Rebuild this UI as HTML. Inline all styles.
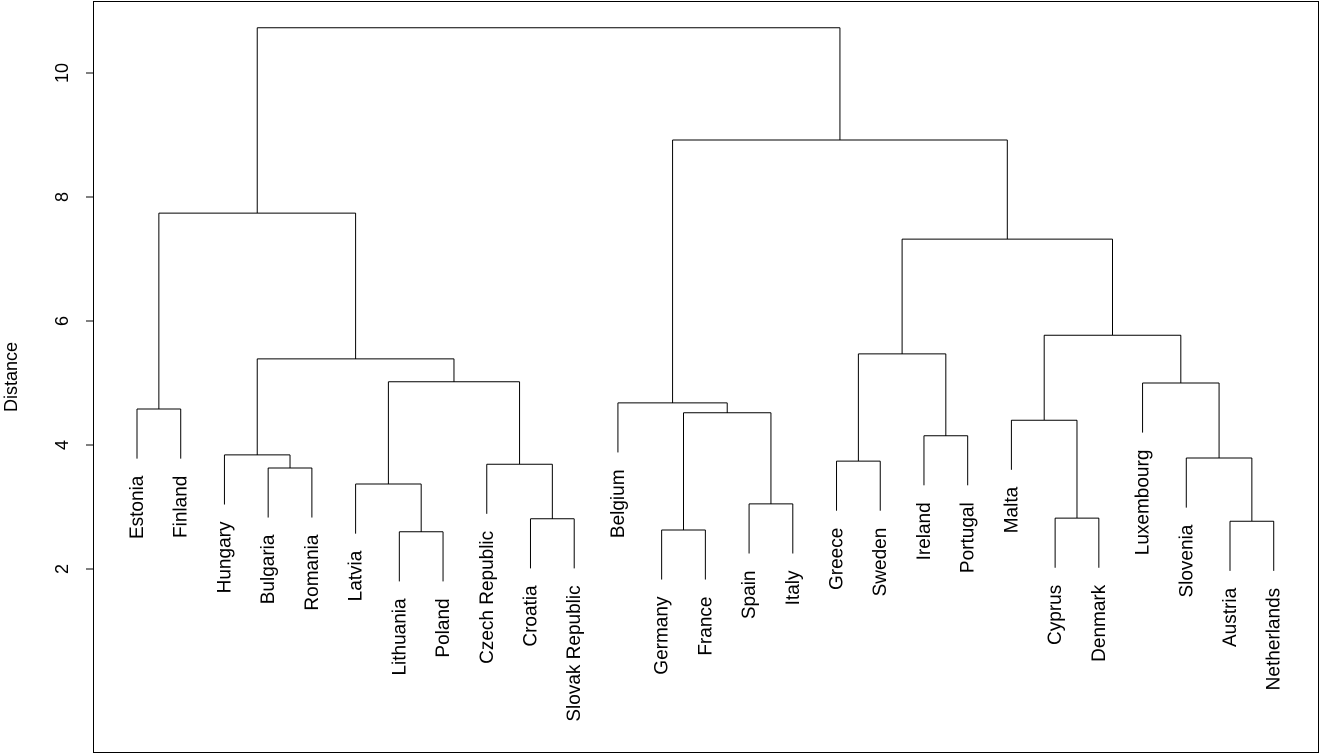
<!DOCTYPE html>
<html><head><meta charset="utf-8">
<style>
html,body{margin:0;padding:0;background:#fff;}
svg{display:block;font-family:"Liberation Sans",Arial,sans-serif;}
</style></head>
<body>
<svg id="chart" width="1320" height="754" viewBox="0 0 1320 754">
  <rect x="93.5" y="1.5" width="1225" height="751" fill="none" stroke="#000" stroke-width="1"/>
  <g id="yaxis"></g>
  <text x="17" y="377" transform="rotate(-90 17 377)" text-anchor="middle" font-size="18">Distance</text>
  <g id="tree"></g>
  <g id="labels"></g>
</svg>
<script>
const leafLabels = ["Estonia","Finland","Hungary","Bulgaria","Romania","Latvia","Lithuania","Poland","Czech Republic","Croatia","Slovak Republic","Belgium","Germany","France","Spain","Italy","Greece","Sweden","Ireland","Portugal","Malta","Cyprus","Denmark","Luxembourg","Slovenia","Austria","Netherlands"];
const mergeLeft  = [-7,-13,-26,-10,-22,-15,-6,-4,-9,-17,-25,-3,-19,-21,2,-1,-12,-24,7,12,10,14,21,16,17,24];
const mergeRight = [-8,-14,-27,-11,-23,-16,1,-5,4,-18,3,8,-20,5,6,-2,15,11,9,19,13,18,22,20,23,25];
const mergeHeights = [2.60,2.63,2.77,2.81,2.82,3.05,3.37,3.63,3.69,3.74,3.79,3.84,4.15,4.40,4.52,4.58,4.68,5.00,5.02,5.39,5.47,5.77,7.32,7.74,8.92,10.73];
const yTicks = [2,4,6,8,10];

const NS="http://www.w3.org/2000/svg";
const yScale = v => 73 + (10 - v) * 62;
const xScale = i => 137 + i * 43.72;
const hang = 0.8;
const FS = 19;
const tree=document.getElementById('tree'), labs=document.getElementById('labels'), yax=document.getElementById('yaxis');

function line(g,x1,y1,x2,y2,name){
  const l=document.createElementNS(NS,'line');
  l.setAttribute('x1',x1);l.setAttribute('y1',y1);l.setAttribute('x2',x2);l.setAttribute('y2',y2);
  l.setAttribute('stroke','#000');l.setAttribute('stroke-width','1');
  
  
  g.appendChild(l);
}
line(yax,93.5,yScale(yTicks[0]),93.5,yScale(yTicks[yTicks.length-1]),'y-axis-line');
yTicks.forEach(t=>{
  const y=yScale(t);
  line(yax,86,y,93.5,y,'y-tick');
  const tx=document.createElementNS(NS,'text');
  tx.setAttribute('x',68);tx.setAttribute('y',y);
  tx.setAttribute('transform','rotate(-90 68 '+y+')');
  tx.setAttribute('text-anchor','middle');tx.setAttribute('font-size','18');
  tx.textContent=t;
  
  
  yax.appendChild(tx);
});
const nodeX=[], nodeY=[];
function childPos(c){
  if(c<0){return {x:xScale(-c-1), leaf:-c-1};}
  return {x:nodeX[c-1], y:nodeY[c-1]};
}
for(let k=0;k<mergeHeights.length;k++){
  const h=mergeHeights[k], yy=yScale(h);
  const a=childPos(mergeLeft[k]), b=childPos(mergeRight[k]);
  [a,b].forEach(c=>{
    let yb;
    if(c.leaf!==undefined){
      yb=yScale(h-hang);
      const lx=c.x+6, ly=yb+17;
      const tx=document.createElementNS(NS,'text');
      tx.setAttribute('x',lx);tx.setAttribute('y',ly);
      tx.setAttribute('transform','rotate(-90 '+lx+' '+ly+')');
      tx.setAttribute('text-anchor','end');tx.setAttribute('font-size',FS);
      tx.textContent=leafLabels[c.leaf];
      
      
      labs.appendChild(tx);
    } else yb=c.y;
    line(tree,c.x,yy,c.x,yb,'branch-vertical');
  });
  line(tree,a.x,yy,b.x,yy,'branch-horizontal');
  nodeX.push((a.x+b.x)/2); nodeY.push(yy);
}
</script>
</body></html>
